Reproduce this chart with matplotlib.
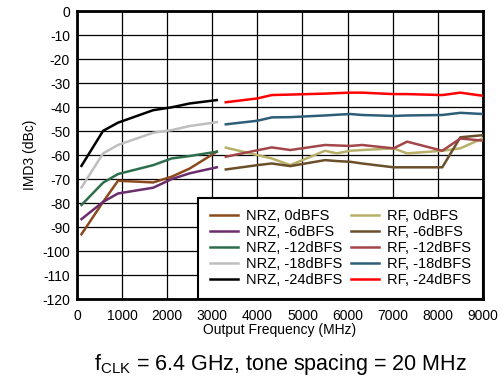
import matplotlib
matplotlib.use("Agg")
import matplotlib.pyplot as plt

plt.rcParams['font.family'] = ['Liberation Sans', 'DejaVu Sans']
plt.rcParams['mathtext.default'] = 'regular'
plt.rcParams['axes.unicode_minus'] = False

# NRZ series (MHz, dBc)
nrz_x = [100, 580, 910, 1690, 2100, 2500, 3100]
nrz_0 = [-93.0, -79.5, -70.7, -71.4, -69.0, -65.6, -58.6]
nrz_6 = [-86.7, -79.5, -76.0, -73.6, -70.0, -67.6, -65.1]
nrz_12 = [-80.8, -71.5, -67.9, -64.2, -61.4, -60.4, -58.6]
nrz_18 = [-73.5, -59.3, -55.8, -50.7, -49.6, -47.9, -46.3]
nrz_24 = [-64.5, -49.9, -46.5, -41.3, -40.1, -38.5, -37.1]

# RF series
rf_x = [3300, 4000, 4320, 4730, 5500, 5760, 6060, 6320, 7020, 7320, 8100, 8500, 9000]
rf_0 = [-56.9, -60.0, -61.4, -64.2, -58.2, -59.3, -58.2, -57.9, -57.2, -59.3, -58.2, -57.2, -53.0]
rf_6 = [-66.0, -64.2, -63.5, -64.6, -62.1, -62.5, -62.8, -63.5, -65.1, -65.1, -65.1, -52.6, -51.7]
rf_12 = [-60.7, -58.0, -56.8, -57.9, -55.8, -56.0, -56.2, -55.8, -57.2, -54.4, -58.2, -53.1, -54.0]
rf_18 = [-47.2, -45.7, -44.3, -44.2, -43.5, -43.2, -42.9, -43.3, -43.7, -43.5, -43.3, -42.4, -42.9]
rf_24 = [-38.0, -36.4, -35.0, -34.8, -34.4, -34.2, -34.0, -34.0, -34.6, -34.6, -35.0, -34.0, -35.3]

nrz_labels = ['NRZ, 0dBFS', 'NRZ, -6dBFS', 'NRZ, -12dBFS', 'NRZ, -18dBFS', 'NRZ, -24dBFS']
rf_labels = ['RF, 0dBFS', 'RF, -6dBFS', 'RF, -12dBFS', 'RF, -18dBFS', 'RF, -24dBFS']
nrz_colors = ['#8B4A1E', '#6B2D6B', '#2D6E4C', '#BEBEBE', '#000000']
rf_colors = ['#B8B068', '#6B4E2A', '#A3464A', '#2C5E78', '#FF0000']

fig = plt.figure(figsize=(5.03, 3.81), dpi=100)
ax = fig.add_axes([0.153, 0.215, 0.807, 0.756])

handles = []
for y, c, l in zip([nrz_0, nrz_6, nrz_12, nrz_18, nrz_24], nrz_colors, nrz_labels):
    h, = ax.plot(nrz_x, y, color=c, lw=1.8, label=l, zorder=3)
    handles.append(h)
for y, c, l in zip([rf_0, rf_6, rf_12, rf_18, rf_24], rf_colors, rf_labels):
    h, = ax.plot(rf_x, y, color=c, lw=1.8, label=l, zorder=3)
    handles.append(h)

ax.set_xlim(0, 9000)
ax.set_ylim(-120, 0)
ax.set_xticks(range(0, 9001, 1000))
ax.set_yticks(range(-120, 1, 10))
ax.grid(True, color='#000000', lw=0.9)
for s in ax.spines.values():
    s.set_linewidth(2)
ax.tick_params(axis='x', length=0, labelsize=10, pad=7)
ax.tick_params(axis='y', length=0, labelsize=10, pad=5)
ax.set_xlabel('Output Frequency (MHz)', fontsize=10, labelpad=0)
ax.set_ylabel('IMD3 (dBc)', fontsize=10, labelpad=4)

leg = ax.legend(handles=handles, ncol=2, loc='lower right', bbox_to_anchor=(1, 0),
                borderaxespad=0, fontsize=10.5, frameon=True, fancybox=False,
                handlelength=1.9, handletextpad=0.55, columnspacing=0.65,
                labelspacing=0.14, borderpad=0.8)
leg.get_frame().set_edgecolor('black')
leg.get_frame().set_linewidth(1.5)
leg.get_frame().set_alpha(1)
leg.set_zorder(5)

fig.text(0.558, 0.042, 'f$_{CLK}$ = 6.4 GHz, tone spacing = 20 MHz', ha='center', va='center', fontsize=15.5)

fig.savefig('out.png', dpi=100)
